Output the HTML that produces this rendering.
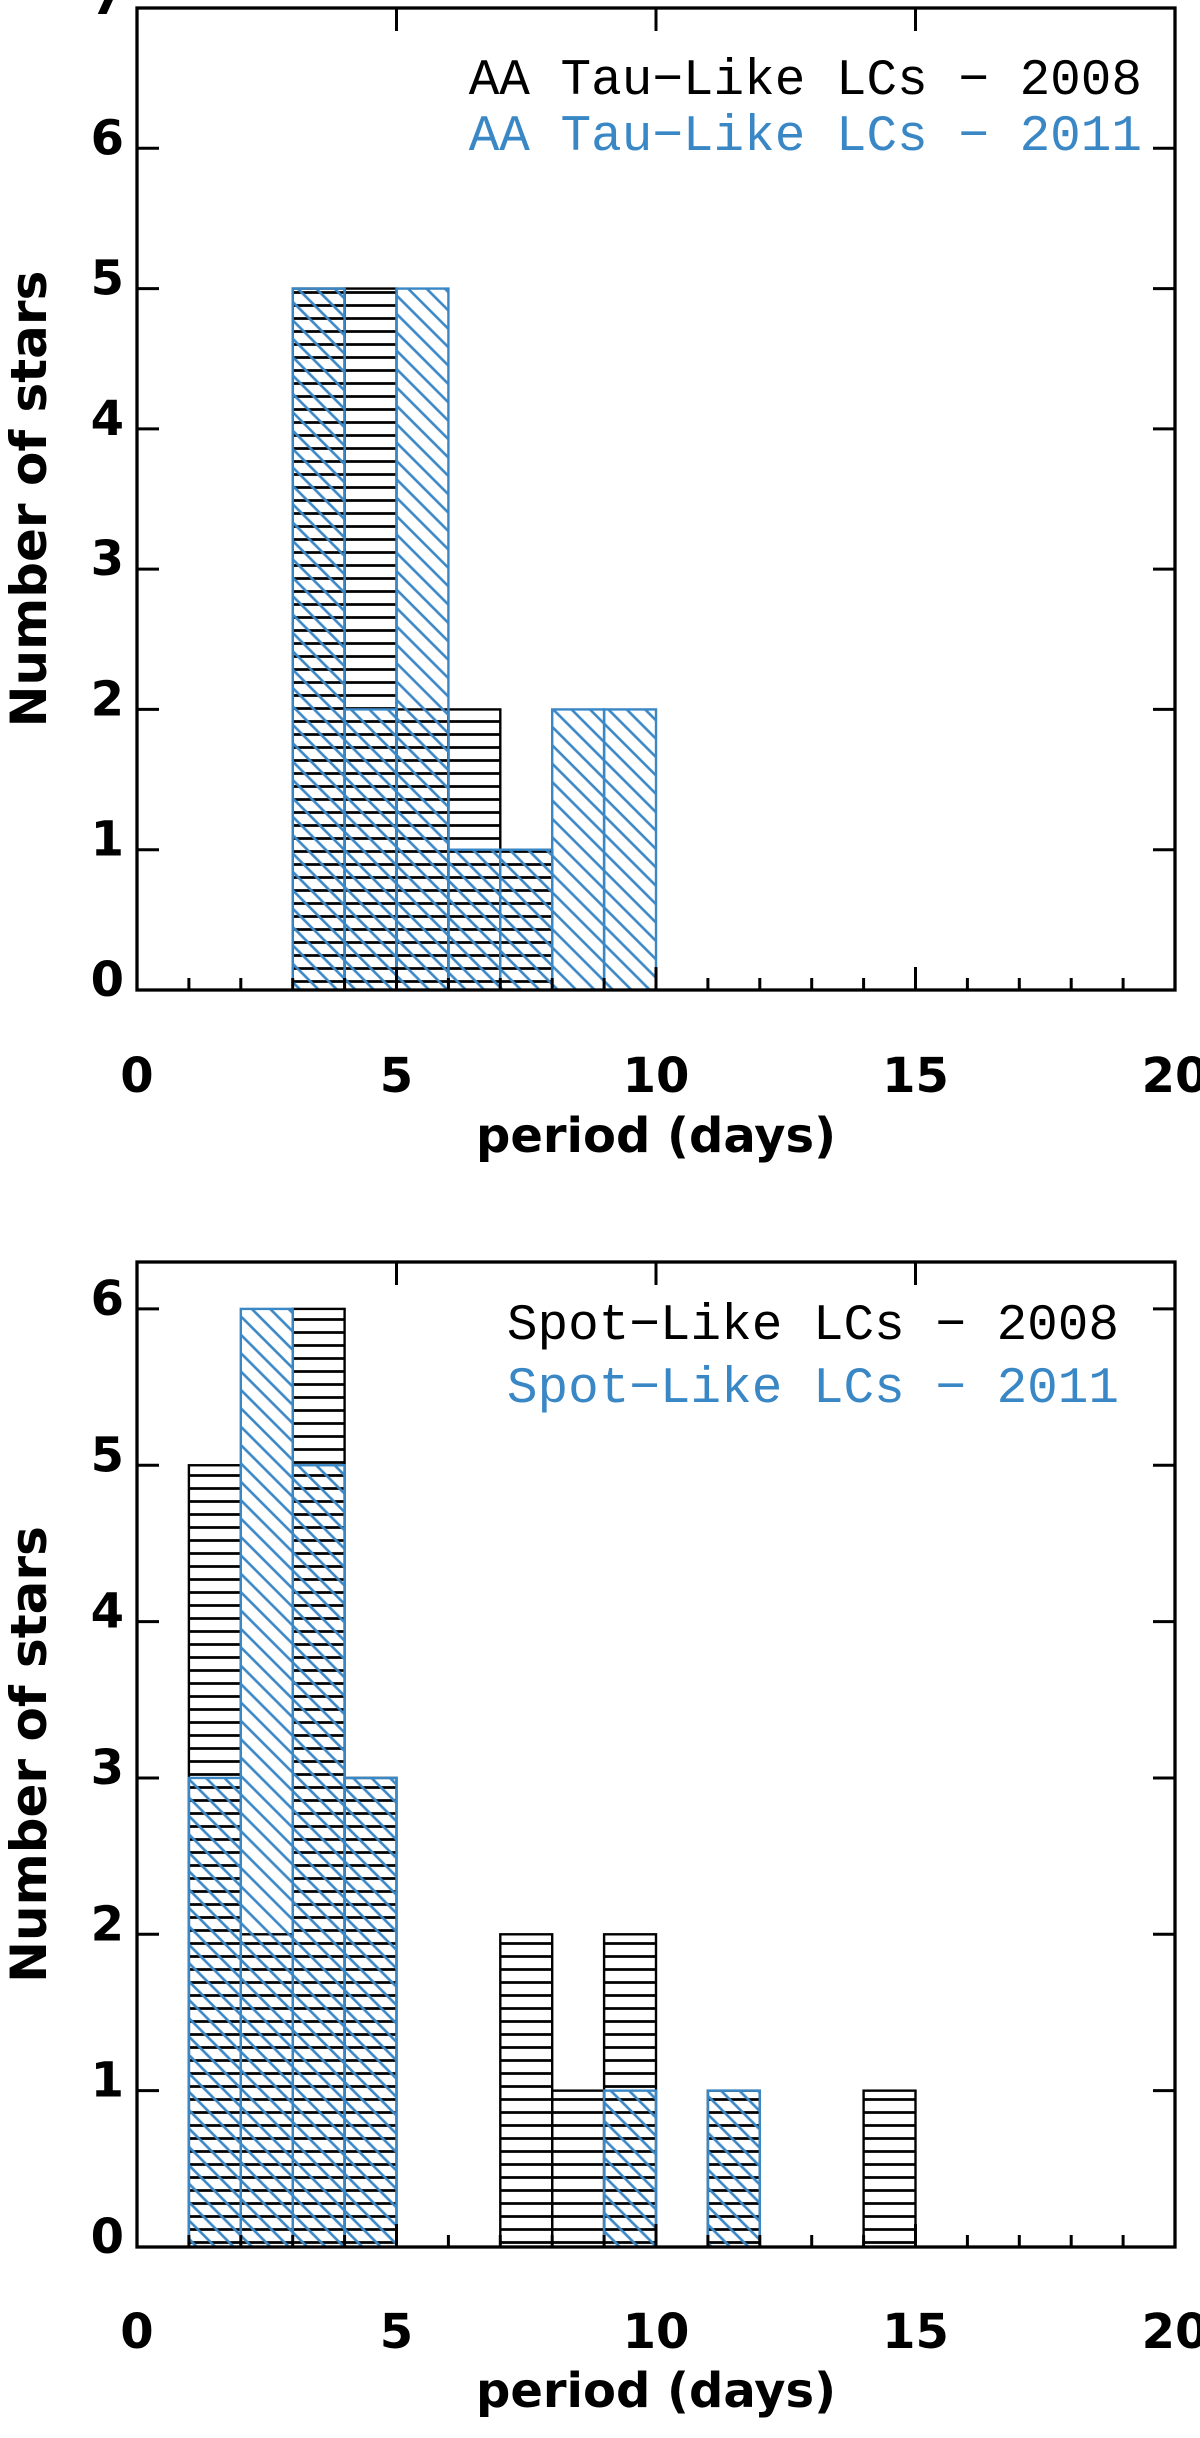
<!DOCTYPE html>
<html><head><meta charset="utf-8"><style>
html,body{margin:0;padding:0;background:#fff;}
svg{display:block;}
</style></head><body>
<svg id="fig" width="1200" height="2438" viewBox="0 0 1200 2438" xmlns="http://www.w3.org/2000/svg">
<defs>
<pattern id="hb" patternUnits="userSpaceOnUse" width="20" height="13"><line x1="0" y1="6.5" x2="20" y2="6.5" stroke="#000" stroke-width="2.7"/></pattern>
<pattern id="db" patternUnits="userSpaceOnUse" width="13" height="20" patternTransform="rotate(-45)"><line x1="6.5" y1="0" x2="6.5" y2="20" stroke="#3a87c6" stroke-width="2.6"/></pattern>
</defs>
</svg>
<script>
// Top panel data (bins start at integer days, width 1 day)
const topBins2008 = [3,4,5,6,7];
const topCounts2008 = [5,5,2,2,1];
const topBins2011 = [3,4,5,6,7,8,9];
const topCounts2011 = [5,2,5,1,1,2,2];
// Bottom panel data
const botBins2008 = [1,2,3,4,7,8,9,11,14];
const botCounts2008 = [5,2,6,3,2,1,2,1,1];
const botBins2011 = [1,2,3,4,9,11];
const botCounts2011 = [3,6,5,3,1,1];
const xTicks = [0,5,10,15,20];
const topYTicks = [0,1,2,3,4,5,6,7];
const botYTicks = [0,1,2,3,4,5,6];
const topLegend = ["AA Tau\u2212Like LCs \u2212 2008","AA Tau\u2212Like LCs \u2212 2011"];
const botLegend = ["Spot\u2212Like LCs \u2212 2008","Spot\u2212Like LCs \u2212 2011"];

const NS="http://www.w3.org/2000/svg";
const svg=document.getElementById('fig');
const SANS='font-family:"DejaVu Sans","Liberation Sans",sans-serif;font-weight:bold;';
const MONO='font-family:"Liberation Mono",monospace;';
function mk(tag,attrs,parent){const e=document.createElementNS(NS,tag);for(const k in attrs)e.setAttribute(k,attrs[k]);(parent||svg).appendChild(e);return e;}

function panel(name,top,y0,ymax,b08,c08,b11,c11,yt,leg,legY1,legY2,legX,tickY,labY){
  const L=137,R=1175;
  const g=mk('g',{});
  
  
  const xs=v=>L+(R-L)*v/20;
  const ys=v=>y0-(y0-top)*v/ymax;
  b08.forEach((b,i)=>{
    const r=mk('rect',{x:xs(b),y:ys(c08[i]),width:xs(b+1)-xs(b),height:y0-ys(c08[i]),fill:'url(#hb)',stroke:'#000','stroke-width':2.4},g);
    
    
  });
  b11.forEach((b,i)=>{
    const r=mk('rect',{x:xs(b),y:ys(c11[i]),width:xs(b+1)-xs(b),height:y0-ys(c11[i]),fill:'url(#db)',stroke:'#3a87c6','stroke-width':2.4},g);
    
    
  });
  const f=mk('rect',{x:L,y:top,width:R-L,height:y0-top,fill:'none',stroke:'#000','stroke-width':3.3},g);
  
  
  for(let v=0;v<=20;v++){
    const maj=v%5===0, len=maj?23:12;
    mk('line',{x1:xs(v),y1:y0,x2:xs(v),y2:y0-len,stroke:'#000','stroke-width':3},g);
    if(maj) mk('line',{x1:xs(v),y1:top,x2:xs(v),y2:top+23,stroke:'#000','stroke-width':3},g);
  }
  xTicks.forEach(v=>{
    const t=mk('text',{x:xs(v),y:tickY,'text-anchor':'middle',style:SANS+'font-size:48px;'},g);
    t.textContent=v;
    
    
  });
  yt.forEach(v=>{
    mk('line',{x1:L,y1:ys(v),x2:L+22,y2:ys(v),stroke:'#000','stroke-width':3},g);
    mk('line',{x1:R,y1:ys(v),x2:R-22,y2:ys(v),stroke:'#000','stroke-width':3},g);
    const t=mk('text',{x:124,y:ys(v)+6,'text-anchor':'end',style:SANS+'font-size:48px;'},g);
    t.textContent=v;
    
    
  });
  const xl=mk('text',{x:656,y:labY,'text-anchor':'middle',style:SANS+'font-size:48px;'},g);
  xl.textContent='period (days)';
  
  
  const cy=(top+y0)/2;
  const yl=mk('text',{x:0,y:0,'text-anchor':'middle',style:SANS+'font-size:50px;',transform:`translate(46,${cy}) rotate(-90)`},g);
  yl.textContent='Number of stars';
  
  
  const l1=mk('text',{x:legX,y:legY1,'text-anchor':'end',style:MONO+'font-size:51px;fill:#000;'},g);
  l1.textContent=leg[0];
  
  
  const l2=mk('text',{x:legX,y:legY2,'text-anchor':'end',style:MONO+'font-size:51px;fill:#3a87c6;'},g);
  l2.textContent=leg[1];
  
  
}
panel('top-histogram',8,990,7,topBins2008,topCounts2008,topBins2011,topCounts2011,topYTicks,topLegend,94,150,1142,1092,1152);
panel('bottom-histogram',1262,2247,6.3,botBins2008,botCounts2008,botBins2011,botCounts2011,botYTicks,botLegend,1339,1402,1119,2348,2407);
</script>
</body></html>
